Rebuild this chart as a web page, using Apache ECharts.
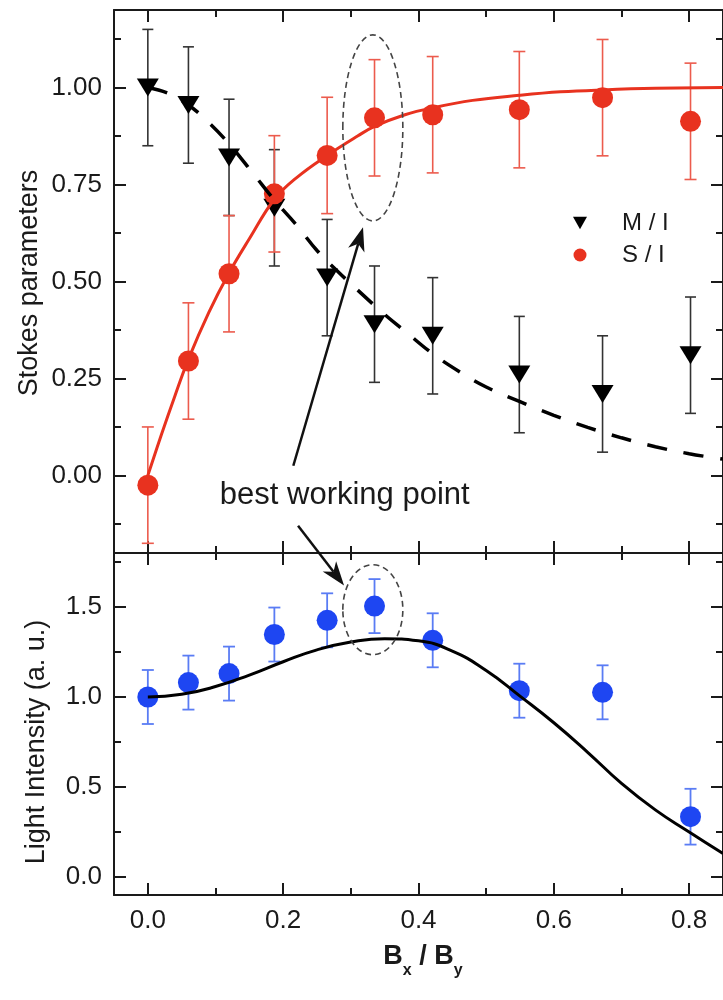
<!DOCTYPE html>
<html><head><meta charset="utf-8">
<script src="https://cdn.jsdelivr.net/npm/echarts@6/dist/echarts.min.js"></script>
<style>html,body{margin:0;padding:0;background:#fff}#c{width:723px;height:1000px}</style>
</head><body><div id="c"></div>
<script>
// ---------- data ----------
const xVals = [0, 0.06, 0.12, 0.187, 0.265, 0.335, 0.421, 0.549, 0.672, 0.802];
const mOverI = [1.00, 0.955, 0.82, 0.69, 0.51, 0.39, 0.36, 0.26, 0.21, 0.31];
const mErr = [0.15, 0.15, 0.15, 0.15, 0.15, 0.15, 0.15, 0.15, 0.15, 0.15];
const sOverI = [-0.025, 0.295, 0.52, 0.726, 0.825, 0.922, 0.93, 0.943, 0.974, 0.913];
const sErr = [0.15, 0.15, 0.15, 0.15, 0.15, 0.15, 0.15, 0.15, 0.15, 0.15];
const intensity = [1.0, 1.08, 1.13, 1.347, 1.426, 1.505, 1.315, 1.035, 1.026, 0.335];
const iErr = [0.15, 0.15, 0.15, 0.15, 0.15, 0.15, 0.15, 0.15, 0.15, 0.155];

const sFitX = [0, 0.02, 0.04, 0.06, 0.09, 0.12, 0.15, 0.187, 0.22, 0.265, 0.31, 0.335, 0.38, 0.421, 0.48, 0.549, 0.61, 0.672, 0.75, 0.85];
const sFitY = [0, 0.105, 0.205, 0.30, 0.42, 0.522, 0.61, 0.712, 0.768, 0.825, 0.875, 0.90, 0.93, 0.948, 0.967, 0.98, 0.989, 0.994, 0.998, 1.0];
const mFitX = [0, 0.03, 0.06, 0.09, 0.12, 0.155, 0.187, 0.22, 0.25, 0.28, 0.31, 0.35, 0.38, 0.42, 0.46, 0.5, 0.55, 0.6, 0.65, 0.7, 0.75, 0.8, 0.85];
const mFitY = [1.0, 0.985, 0.955, 0.91, 0.855, 0.78, 0.71, 0.645, 0.58, 0.527, 0.478, 0.415, 0.372, 0.315, 0.268, 0.228, 0.19, 0.155, 0.124, 0.097, 0.074, 0.056, 0.042];
const iFitX = [0, 0.05, 0.1, 0.15, 0.2, 0.25, 0.3, 0.35, 0.4, 0.45, 0.5, 0.55, 0.6, 0.65, 0.7, 0.75, 0.8, 0.85];
const iFitY = [1.0, 1.015, 1.058, 1.122, 1.196, 1.262, 1.305, 1.324, 1.312, 1.255, 1.147, 1.005, 0.857, 0.693, 0.52, 0.373, 0.25, 0.13];

const xMajor = [0, 0.2, 0.4, 0.6, 0.8];
const xMinor = [0.1, 0.3, 0.5, 0.7];
const yTopMajor = [0, 0.25, 0.5, 0.75, 1.0];
const yTopMinor = [-0.125, 0.125, 0.375, 0.625, 0.875, 1.125];
const yBotMajor = [0, 0.5, 1.0, 1.5];
const yBotMinor = [0.25, 0.75, 1.25, 1.75];

// ---------- chart ----------
const FONT = '"Liberation Sans", Arial, Helvetica, sans-serif';
const AX = '#1a1a1a';
const X_MIN = -0.05, X_MAX = 0.85;

function mkX(grid, pos, ticks, len, opts) {
  opts = opts || {};
  return {
    type: 'value', gridIndex: grid, position: pos, min: X_MIN, max: X_MAX,
    axisLine: { show: !!opts.line, onZero: false, lineStyle: { color: AX, width: 2 } },
    axisTick: { show: true, inside: true, length: len, customValues: ticks, lineStyle: { color: AX, width: 2 } },
    axisLabel: opts.labels ? { show: true, customValues: opts.labels, formatter: v => v.toFixed(1),
      fontSize: 26, color: AX, fontFamily: FONT, margin: 13 } : { show: false },
    splitLine: { show: false }, minorTick: { show: false }
  };
}
function mkY(grid, pos, min, max, ticks, len, opts) {
  opts = opts || {};
  return {
    type: 'value', gridIndex: grid, position: pos, min: min, max: max,
    axisLine: { show: !!opts.line, onZero: false, lineStyle: { color: AX, width: 2 } },
    axisTick: { show: true, inside: true, length: len, customValues: ticks, lineStyle: { color: AX, width: 2 } },
    axisLabel: opts.labels ? { show: true, customValues: opts.labels, formatter: v => v.toFixed(opts.dec),
      fontSize: 26, color: AX, fontFamily: FONT, margin: 12 } : { show: false },
    splitLine: { show: false }, minorTick: { show: false }
  };
}

function zip(a, b) { return a.map((v, i) => [v, b[i]]); }
function zip3(a, b, c) { return a.map((v, i) => [v, b[i], c[i]]); }

function errRender(color, cap, lw) {
  return function (params, api) {
    const x = api.value(0), y = api.value(1), e = api.value(2);
    const hi = api.coord([x, y + e]);
    const lo = api.coord([x, y - e]);
    const hw = cap / 2;
    const st = { stroke: color, lineWidth: lw };
    return {
      type: 'group', children: [
        { type: 'line', shape: { x1: hi[0], y1: hi[1], x2: lo[0], y2: lo[1] }, style: st },
        { type: 'line', shape: { x1: hi[0] - hw, y1: hi[1], x2: hi[0] + hw, y2: hi[1] }, style: st },
        { type: 'line', shape: { x1: lo[0] - hw, y1: lo[1], x2: lo[0] + hw, y2: lo[1] }, style: st }
      ]
    };
  };
}

const RED = '#e8321f', RED_BAR = '#ec5b4d';
const BLUE = '#1e46f2', BLUE_BAR = '#5a7cf4';

const chart = echarts.init(document.getElementById('c'), null, { renderer: 'canvas' });

const option = {
  animation: false,
  backgroundColor: '#ffffff',
  grid: [
    { left: 114, top: 10, width: 615, height: 543, containLabel: false },
    { left: 114, top: 553, width: 615, height: 342, containLabel: false }
  ],
  xAxis: [
    mkX(0, 'bottom', xMajor, 12, { line: true }),
    mkX(0, 'top', xMajor, 12, { line: true }),
    mkX(0, 'bottom', xMinor, 7),
    mkX(0, 'top', xMinor, 7),
    mkX(1, 'bottom', xMajor, 12, { line: true, labels: xMajor }),
    mkX(1, 'top', xMajor, 12, { line: true }),
    mkX(1, 'bottom', xMinor, 7),
    mkX(1, 'top', xMinor, 7)
  ],
  yAxis: [
    mkY(0, 'left', -0.2, 1.2, yTopMajor, 12, { line: true, labels: yTopMajor, dec: 2 }),
    mkY(0, 'right', -0.2, 1.2, yTopMajor, 12, { line: true }),
    mkY(0, 'left', -0.2, 1.2, yTopMinor, 7),
    mkY(0, 'right', -0.2, 1.2, yTopMinor, 7),
    mkY(1, 'left', -0.1, 1.8, yBotMajor, 12, { line: true, labels: yBotMajor, dec: 1 }),
    mkY(1, 'right', -0.1, 1.8, yBotMajor, 12, { line: true }),
    mkY(1, 'left', -0.1, 1.8, yBotMinor, 7),
    mkY(1, 'right', -0.1, 1.8, yBotMinor, 7)
  ],
  legend: {
    left: 568, top: 203, orient: 'vertical', itemWidth: 14, itemHeight: 13, itemGap: 2,
    selectedMode: false,
    textStyle: { fontSize: 24, fontFamily: FONT, color: AX, padding: [0, 0, 0, 30], lineHeight: 30 },
    data: [
      { name: 'M / I', icon: 'path://M0,0L10,0L5,9Z' },
      { name: 'S / I', icon: 'circle' }
    ]
  },
  series: [
    { type: 'custom', name: 'M err', xAxisIndex: 0, yAxisIndex: 0, z: 2, clip: false,
      renderItem: errRender('#333333', 11, 1.6), encode: { x: 0, y: 1 }, data: zip3(xVals, mOverI, mErr) },
    { type: 'custom', name: 'S err', xAxisIndex: 0, yAxisIndex: 0, z: 3, clip: false,
      renderItem: errRender(RED_BAR, 12, 1.6), encode: { x: 0, y: 1 }, data: zip3(xVals, sOverI, sErr) },
    { type: 'scatter', name: 'M / I', xAxisIndex: 0, yAxisIndex: 0, z: 4,
      symbol: 'triangle', symbolRotate: 180, symbolSize: [22, 18],
      itemStyle: { color: '#000000', opacity: 1 }, data: zip(xVals, mOverI) },
    { type: 'line', name: 'S fit', xAxisIndex: 0, yAxisIndex: 0, z: 5, symbol: 'none', smooth: 0.4,
      lineStyle: { color: RED, width: 3 }, data: zip(sFitX, sFitY) },
    { type: 'scatter', name: 'S / I', xAxisIndex: 0, yAxisIndex: 0, z: 6,
      symbol: 'circle', symbolSize: 21, itemStyle: { color: RED, opacity: 1 }, data: zip(xVals, sOverI) },
    { type: 'line', name: 'M fit', xAxisIndex: 0, yAxisIndex: 0, z: 7, symbol: 'none', smooth: 0.4,
      lineStyle: { color: '#000000', width: 3.5, type: [20, 17] }, data: zip(mFitX, mFitY) },

    { type: 'custom', name: 'I err', xAxisIndex: 4, yAxisIndex: 4, z: 2, clip: false,
      renderItem: errRender(BLUE_BAR, 12, 1.8), encode: { x: 0, y: 1 }, data: zip3(xVals, intensity, iErr) },
    { type: 'scatter', name: 'Intensity', xAxisIndex: 4, yAxisIndex: 4, z: 3,
      symbol: 'circle', symbolSize: 21, itemStyle: { color: BLUE, opacity: 1 }, data: zip(xVals, intensity) },
    { type: 'line', name: 'I fit', xAxisIndex: 4, yAxisIndex: 4, z: 4, symbol: 'none', smooth: 0.5,
      lineStyle: { color: '#000000', width: 3 }, data: zip(iFitX, iFitY) }
  ]
};
chart.setOption(option);

// ---------- annotations ----------
function p0(pt) { return chart.convertToPixel({ xAxisIndex: 0, yAxisIndex: 0 }, pt); }
function p1(pt) { return chart.convertToPixel({ xAxisIndex: 4, yAxisIndex: 4 }, pt); }

function arrow(s, t, L, W) {
  const dx = t[0] - s[0], dy = t[1] - s[1];
  const len = Math.sqrt(dx * dx + dy * dy);
  const ux = dx / len, uy = dy / len, nx = -uy, ny = ux;
  const bx = t[0] - ux * L, by = t[1] - uy * L;
  const mx = t[0] - ux * L * 0.72, my = t[1] - uy * L * 0.72;
  return [
    { type: 'line', shape: { x1: s[0], y1: s[1], x2: mx, y2: my }, style: { stroke: '#111', lineWidth: 2.5 }, z: 20 },
    { type: 'polygon', shape: { points: [t, [bx + nx * W / 2, by + ny * W / 2], [mx, my], [bx - nx * W / 2, by - ny * W / 2]] },
      style: { fill: '#111' }, z: 20 }
  ];
}

const e1 = p0([0.3325, 0.896]);
const e2 = p1([0.3325, 1.485]);
const txt = p0([0.291, -0.052]);
const a1s = p0([0.215, 0.025]), a1t = p0([0.318, 0.64]);
const a2s = p0([0.222, -0.13]), a2t = p1([0.29, 1.62]);

const ellStyle = { stroke: '#444', lineWidth: 1.6, fill: null, lineDash: [6, 4] };
chart.setOption({
  graphic: {
    elements: [
      { type: 'ellipse', shape: { cx: e1[0], cy: e1[1], rx: 30, ry: 93 }, style: ellStyle, z: 19 },
      { type: 'ellipse', shape: { cx: e2[0], cy: e2[1], rx: 30, ry: 45 }, style: ellStyle, z: 19 },
      ...arrow(a1s, a1t, 24, 17),
      ...arrow(a2s, a2t, 24, 17),
      { type: 'text', x: txt[0], y: txt[1], z: 21,
        style: { text: 'best working point', font: '31px ' + FONT, fill: '#1a1a1a', align: 'center', verticalAlign: 'middle' } },
      { type: 'text', x: 30, y: 283, rotation: Math.PI / 2, z: 21,
        style: { text: 'Stokes parameters', font: '27px ' + FONT, fill: '#1a1a1a', align: 'center', verticalAlign: 'middle' } },
      { type: 'text', x: 37, y: 742, rotation: Math.PI / 2, z: 21,
        style: { text: 'Light Intensity (a. u.)', font: '27px ' + FONT, fill: '#1a1a1a', align: 'center', verticalAlign: 'middle' } },
      { type: 'text', x: 423, y: 957, z: 21,
        style: { text: '{b|B}{s|x}{b| / B}{s|y}', align: 'center', verticalAlign: 'middle',
          rich: { b: { font: 'bold 27px ' + FONT, fill: '#1a1a1a', verticalAlign: 'bottom' },
                  s: { font: 'bold 16px ' + FONT, fill: '#1a1a1a', verticalAlign: 'bottom', padding: [0, 0, -8, 0] } } } }
    ]
  }
});
</script>
</body></html>
